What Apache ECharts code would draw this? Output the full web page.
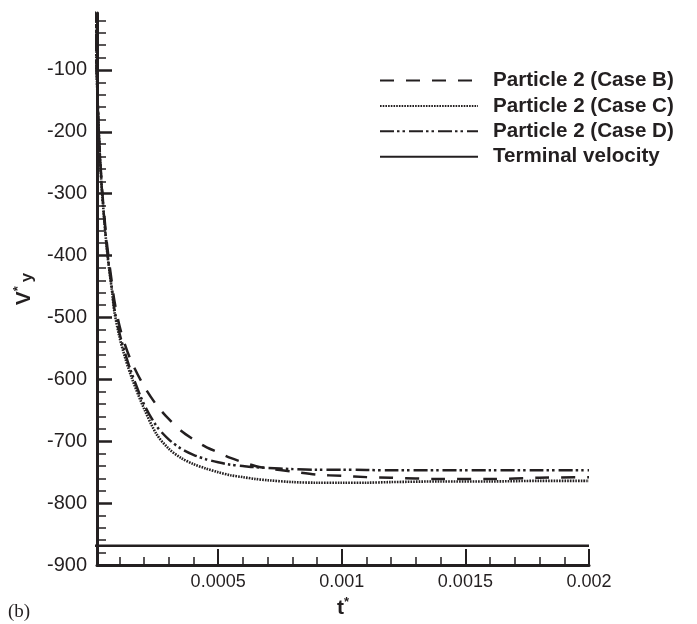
<!DOCTYPE html>
<html>
<head>
<meta charset="utf-8">
<script src="https://cdn.jsdelivr.net/npm/echarts@6/dist/echarts.min.js"></script>
<style>
html,body{margin:0;padding:0;background:#fff;}
#chart{width:697px;height:624px;}
</style>
</head>
<body>
<div id="chart"></div>
<script>
// ---- data ----
var tValues = [0, 0.00001, 0.00002, 0.00003, 0.00004, 0.00005, 0.00006, 0.00007, 0.00008, 0.0001,
  0.00012, 0.00015, 0.0002, 0.00025, 0.0003, 0.00035, 0.0004, 0.00045, 0.0005, 0.00055,
  0.0006, 0.00065, 0.0007, 0.0008, 0.0009, 0.001, 0.0011, 0.0012, 0.0014, 0.0016, 0.0018, 0.002];
var caseB = [0, -118, -220, -290, -338, -380, -413, -443, -472, -512,
  -540, -572, -611, -641, -664, -683, -697, -709, -718, -727,
  -734, -740, -744, -749, -754, -756, -758, -759, -761, -761, -759, -758];
var caseC = [0, -120, -225, -295, -345, -390, -425, -455, -490, -530,
  -560, -597, -647, -688, -712, -727, -737, -744, -750, -755,
  -758, -761, -763, -766, -767, -767, -767, -766, -765, -765, -764, -764];
var caseD = [0, -120, -225, -295, -345, -388, -422, -452, -485, -524,
  -553, -590, -640, -675, -697, -712, -722, -729, -734, -738,
  -740, -742, -743, -745, -746, -746, -746.5, -747, -747, -747, -747, -747];
var terminalT = [0, 0.002];
var terminalV = [-869, -869];

var seriesNames = ['Particle 2 (Case B)', 'Particle 2 (Case C)', 'Particle 2 (Case D)', 'Terminal velocity'];

var xMajorTicks = [0.0005, 0.001, 0.0015, 0.002];
var xMinorTicks = [0.0001, 0.0002, 0.0003, 0.0004, 0.0006, 0.0007, 0.0008, 0.0009,
  0.0011, 0.0012, 0.0013, 0.0014, 0.0016, 0.0017, 0.0018, 0.0019];
var yMajorTicks = [-900, -800, -700, -600, -500, -400, -300, -200, -100];
var yMinorTicks = [-880, -860, -840, -820, -780, -760, -740, -720, -680, -660, -640, -620,
  -580, -560, -540, -520, -480, -460, -440, -420, -380, -360, -340, -320,
  -280, -260, -240, -220, -180, -160, -140, -120, -80, -60, -40, -20];

function pairs(xs, ys) { return xs.map(function (x, i) { return [x, ys[i]]; }); }

var INK = '#231f20';
var FONT = '"Liberation Sans", Arial, Helvetica, sans-serif';
var X_MIN = 0.00001, X_MAX = 0.002, Y_MIN = -900, Y_MAX = -8;

var chart = echarts.init(document.getElementById('chart'), null, {renderer: 'canvas'});
chart.setOption({
  animation: false,
  backgroundColor: '#fff',
  grid: {left: 97, right: 108, top: 13, bottom: 59},
  legend: {
    orient: 'vertical', left: 379, top: 70, padding: 0,
    itemWidth: 98, itemHeight: 12, itemGap: 4.4,
    data: seriesNames,
    itemStyle: {opacity: 0, borderWidth: 0},
    textStyle: {fontFamily: FONT, fontWeight: 'bold', fontSize: 20.6, color: INK, lineHeight: 20, padding: [0, 0, 0, 10]}
  },
  xAxis: [{
    type: 'value', min: X_MIN, max: X_MAX, position: 'bottom',
    axisLine: {show: true, onZero: false, lineStyle: {color: INK, width: 3}},
    axisTick: {show: true, inside: true, length: 16, customValues: xMajorTicks, lineStyle: {color: INK, width: 2}},
    axisLabel: {show: true, customValues: xMajorTicks, margin: 8, fontFamily: FONT, fontSize: 18, color: INK,
      formatter: function (v) { return String(+(+v).toFixed(4)); }},
    splitLine: {show: false},
    name: '{a|t}{b|*}', nameLocation: 'middle', nameGap: 28,
    nameTextStyle: {rich: {
      a: {fontFamily: FONT, fontWeight: 'bold', fontSize: 21, color: INK, lineHeight: 24},
      b: {fontFamily: FONT, fontWeight: 'bold', fontSize: 13, color: INK, lineHeight: 14, verticalAlign: 'top'}
    }}
  }, {
    type: 'value', min: X_MIN, max: X_MAX, position: 'bottom',
    axisLine: {show: false},
    axisTick: {show: true, inside: true, length: 8, customValues: xMinorTicks, lineStyle: {color: INK, width: 1.5}},
    axisLabel: {show: false}, splitLine: {show: false}
  }],
  yAxis: [{
    type: 'value', min: Y_MIN, max: Y_MAX, position: 'left',
    axisLine: {show: true, onZero: false, lineStyle: {color: INK, width: 3}},
    axisTick: {show: true, inside: true, length: 15, customValues: yMajorTicks, lineStyle: {color: INK, width: 2.5}},
    axisLabel: {show: true, customValues: yMajorTicks, margin: 10, fontFamily: FONT, fontSize: 20, color: INK,
      formatter: function (v) { return String(Math.round(v)); }},
    splitLine: {show: false},
    name: '{v|V}{s|*}{y|y}', nameLocation: 'middle', nameGap: 60,
    nameTextStyle: {rich: {
      v: {fontFamily: FONT, fontWeight: 'bold', fontSize: 21, color: INK, lineHeight: 24},
      s: {fontFamily: FONT, fontWeight: 'bold', fontSize: 13, color: INK, lineHeight: 14, verticalAlign: 'top'},
      y: {fontFamily: FONT, fontWeight: 'bold', fontSize: 17, color: INK, lineHeight: 17, verticalAlign: 'bottom', padding: [0, 0, 0, 4]}
    }}
  }, {
    type: 'value', min: Y_MIN, max: Y_MAX, position: 'left',
    axisLine: {show: false},
    axisTick: {show: true, inside: true, length: 9, customValues: yMinorTicks, lineStyle: {color: INK, width: 1.5}},
    axisLabel: {show: false}, splitLine: {show: false}
  }],
  graphic: [{
    type: 'text', left: 8, top: 603,
    style: {text: '(b)', fontFamily: '"Liberation Serif", "Times New Roman", serif', fontSize: 19, fill: INK}
  }],
  series: [{
    name: seriesNames[0], type: 'line', xAxisIndex: 0, yAxisIndex: 0,
    data: pairs(tValues, caseB), symbol: 'none', smooth: 0.3,
    lineStyle: {color: INK, width: 2.5, type: [14, 12]}, itemStyle: {color: INK}
  }, {
    name: seriesNames[1], type: 'line', xAxisIndex: 0, yAxisIndex: 0,
    data: pairs(tValues, caseC), symbol: 'none', smooth: 0.3,
    lineStyle: {color: INK, width: 2.6, type: [1.6, 1.1]}, itemStyle: {color: INK}
  }, {
    name: seriesNames[2], type: 'line', xAxisIndex: 0, yAxisIndex: 0,
    data: pairs(tValues, caseD), symbol: 'none', smooth: 0.3,
    lineStyle: {color: INK, width: 2.5, type: [14, 3, 2.5, 3, 2.5, 4]}, itemStyle: {color: INK}
  }, {
    name: seriesNames[3], type: 'line', xAxisIndex: 0, yAxisIndex: 0,
    data: pairs(terminalT, terminalV), symbol: 'none',
    lineStyle: {color: INK, width: 2.5, type: 'solid'}, itemStyle: {color: INK}
  }]
});
</script>
</body>
</html>
